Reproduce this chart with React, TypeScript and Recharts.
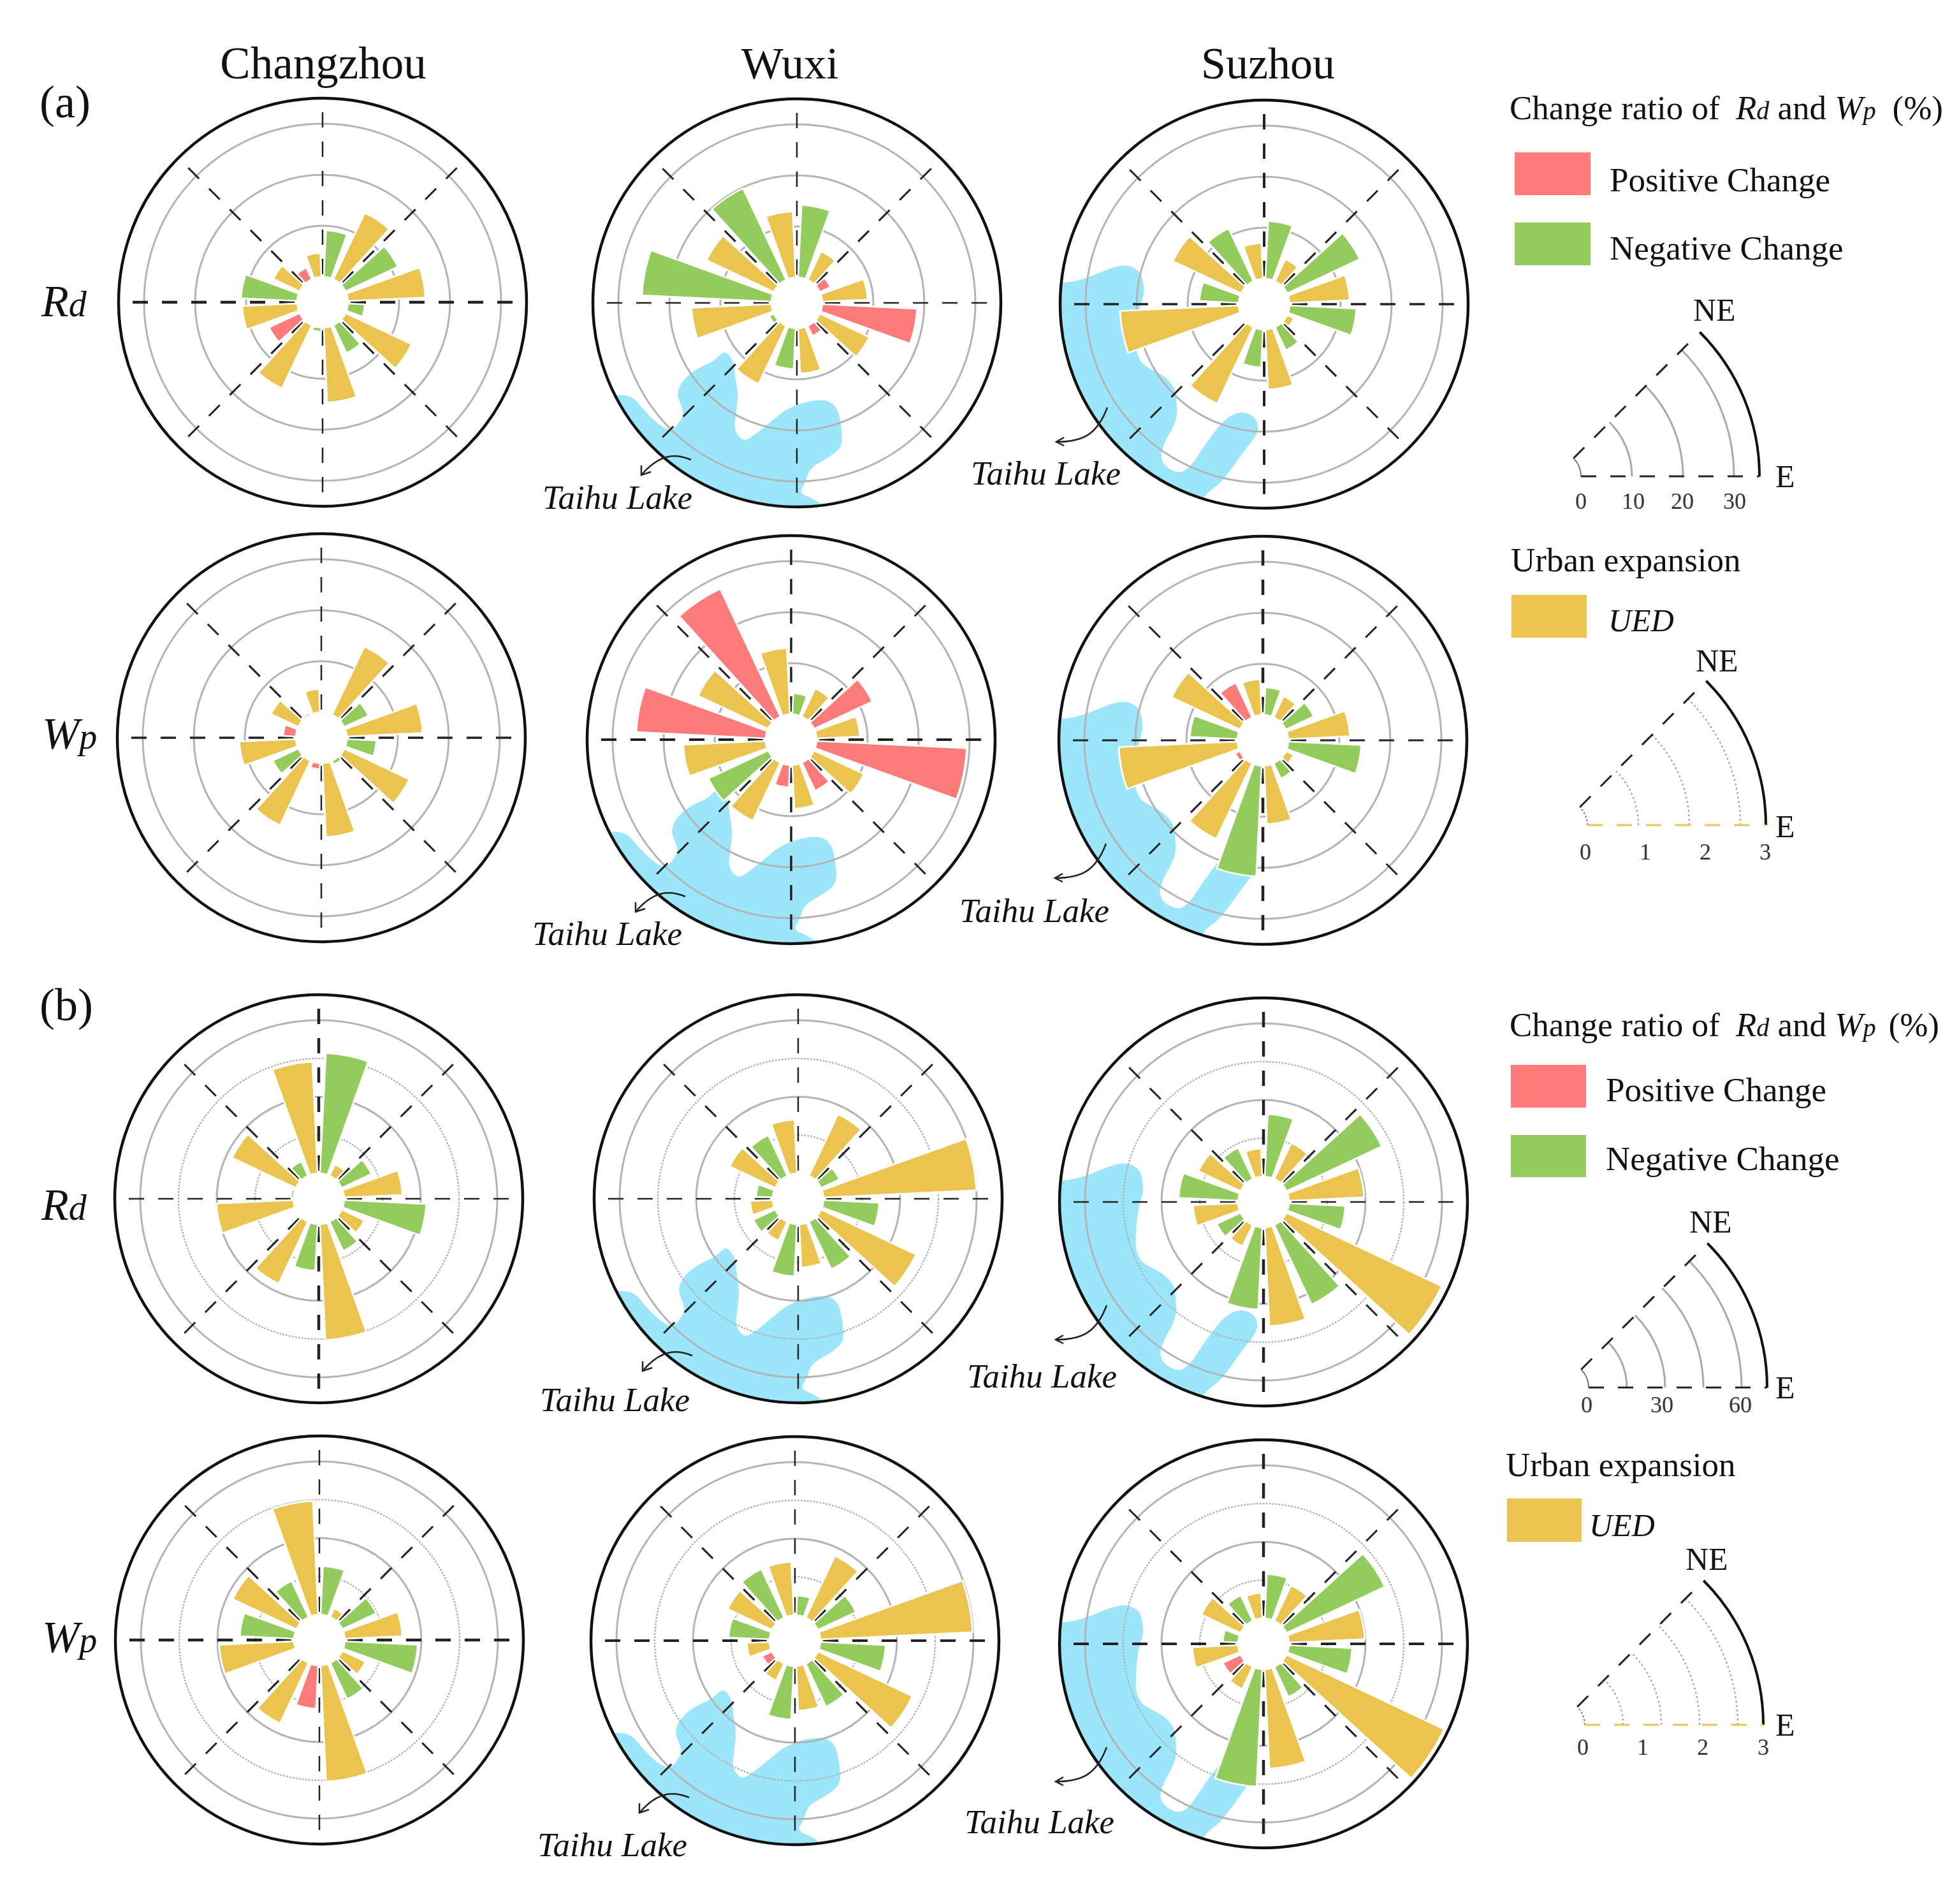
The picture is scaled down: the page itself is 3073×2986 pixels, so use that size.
import React from 'react';
import { RadialBarChart, RadialBar, PolarGrid, PolarAngleAxis, PolarRadiusAxis } from 'recharts';

// eight 45 degree sectors, counter clockwise from east
const sectors = ['E-NE', 'NE-N', 'N-NW', 'NW-W', 'W-SW', 'SW-S', 'S-SE', 'SE-E'];

// UED (gold) and signed change ratio (red when positive, green when negative)
const uedRdChangzhouA = [15.2, 14.4, 4.7, 5.7, 10.8, 13.7, 14.7, 14.3];
const chgRdChangzhouA = [-11.3, -9.1, 2.5, -11, 6.6, -0.8, -6, -3.3];
const uedRdWuxiA = [8.9, 6.2, 13, 14.6, 15.7, 12.6, 8.9, 10.7];
const chgRdWuxiA = [2.3, -14.2, -19.8, -25.4, -1, -8, 2.2, 18.6];
const uedRdSuzhouA = [11.8, 4.8, 7, 14.8, 23.3, 16.6, 11.8, 1.5];
const chgRdSuzhouA = [-15.7, -11.3, -11.4, -7.7, 0, -7.4, -5, -13.1];

const uedWpChangzhouA = [1.49, 1.48, 0.46, 0.59, 1.11, 1.4, 1.45, 1.41];
const chgWpChangzhouA = [-0.52, 0, -0.04, 0.25, -0.55, 0.12, -0.08, -0.58];
const uedWpWuxiA = [0.85, 0.61, 1.3, 1.52, 1.62, 1.26, 0.86, 1.08];
const chgWpWuxiA = [1.26, -0.41, 2.77, 2.54, -1.29, 0.44, 0.61, 2.95];
const uedWpSuzhouA = [1.21, 0.46, 0.7, 1.48, 2.33, 1.64, 1.15, 0.17];
const chgWpSuzhouA = [-0.6, -0.54, 0.75, -0.93, 0.1, -2.17, -0.33, -1.43];

const uedRdChangzhouB = [22.9, 5, 43.8, 27.6, 30.2, 26.9, 45.5, 9.8];
const chgRdChangzhouB = [-12.8, -47.2, -6.2, -1, 0, -18.2, -12.6, -32.2];
const uedRdWuxiB = [60, 26.7, 21.1, 19.7, 8.9, 8.2, 17, 41.2];
const chgRdWuxiB = [-7.9, -0.6, -17.5, -6.5, -9.4, -20.5, -20.5, -21.8];
const uedRdSuzhouB = [29.5, 15.6, 11, 18.3, 17.7, 9.3, 38.8, 67.3];
const chgRdSuzhouB = [-41.2, -24.5, -13.4, -23.3, -10.2, -32.2, -34.4, -22.1];

const uedWpChangzhouB = [1.13, 0.19, 2.23, 1.38, 1.47, 1.31, 2.28, 0.5];
const chgWpChangzhouB = [-0.73, -0.95, -0.78, -1.06, 0, 0.85, -0.78, -1.43];
const uedWpWuxiB = [2.99, 1.34, 1.05, 0.96, 0.45, 0.37, 0.88, 2.05];
const chgWpWuxiB = [-0.82, -0.39, -1.05, -0.8, 0.21, -1.05, -0.93, -1.28];
const uedWpSuzhouB = [1.49, 0.77, 0.5, 0.85, 0.9, 0.48, 1.95, 3.42];
const chgWpSuzhouB = [-2.13, -0.87, -0.55, -0.3, 0.38, -2.3, -0.65, -1.24];

// Taihu Lake outlines, offsets from the panel centre
const lakeWuxi = [[-279,144],[-257,147],[-240,168],[-218,190],[-196,203],[-177,177],[-181,162],[-189,142],[-179,121],[-157,103],[-131,92],[-118,79],[-110,77],[-99,92],[-97,116],[-92,142],[-95,173],[-99,199],[-84,218],[-66,207],[-40,186],[-19,168],[12,155],[46,151],[64,164],[70,194],[72,225],[51,242],[20,259],[14,281],[3,298],[25,307],[42,318],[42,342],[-296,342],[-313,144]];
const lakeSuzhou = [[-316,-33],[-296,-36],[-270,-44],[-240,-57],[-216,-62],[-196,-53],[-190,-38],[-188,-16],[-194,1],[-199,27],[-201,71],[-196,86],[-188,97],[-157,112],[-140,131],[-138,149],[-136,175],[-144,196],[-155,214],[-164,240],[-153,257],[-131,266],[-114,253],[-97,227],[-79,201],[-58,177],[-36,168],[-16,175],[-8,192],[-14,209],[-32,231],[-53,261],[-71,283],[-95,300],[-105,335],[-380,135],[-380,-33]];

const GOLD = '#EBC34F';
const GREEN = '#93CB5C';
const RED = '#FD7B7B';
const LAKE = '#9CE6FB';
const RING = '#b4b4b4';
const SERIF = '"Liberation Serif", serif';

const HOLE = 40;
const EDGE = 320;

const axisA = { max: 35, solid: [10, 20, 30], dotted: [] as number[] };
const axisAWp = { max: 3.5, solid: [1, 2, 3], dotted: [] as number[] };
const axisBRd = { max: 70, solid: [30, 60], dotted: [15, 45] };
const axisBWp = { max: 3.5, solid: [1.5, 3], dotted: [0.75, 2.25] };

const panels = [
  { id: 'a1', cx: 506, cy: 474, ued: uedRdChangzhouA, chg: chgRdChangzhouA, axis: axisA, hw: 4.5, vw: 2.5 },
  { id: 'a2', cx: 1250, cy: 475, ued: uedRdWuxiA, chg: chgRdWuxiA, axis: axisA, hw: 2.5, vw: 2.5, lake: lakeWuxi, tx: 851, ty: 798 },
  { id: 'a3', cx: 1983, cy: 477, ued: uedRdSuzhouA, chg: chgRdSuzhouA, axis: axisA, hw: 3.5, vw: 4, lake: lakeSuzhou, tx: 1523, ty: 760 },
  { id: 'a4', cx: 504, cy: 1157, ued: uedWpChangzhouA, chg: chgWpChangzhouA, axis: axisAWp, hw: 3.5, vw: 2.5 },
  { id: 'a5', cx: 1241, cy: 1160, ued: uedWpWuxiA, chg: chgWpWuxiA, axis: axisAWp, hw: 4, vw: 3.5, lake: lakeWuxi, tx: 835, ty: 1482 },
  { id: 'a6', cx: 1981, cy: 1161, ued: uedWpSuzhouA, chg: chgWpSuzhouA, axis: axisAWp, hw: 3, vw: 4.5, lake: lakeSuzhou, tx: 1505, ty: 1446 },
  { id: 'b1', cx: 500, cy: 1880, ued: uedRdChangzhouB, chg: chgRdChangzhouB, axis: axisBRd, hw: 2.5, vw: 4.5 },
  { id: 'b2', cx: 1252, cy: 1880, ued: uedRdWuxiB, chg: chgRdWuxiB, axis: axisBRd, hw: 2.5, vw: 2.5, lake: lakeWuxi, tx: 847, ty: 2213 },
  { id: 'b3', cx: 1982, cy: 1885, ued: uedRdSuzhouB, chg: chgRdSuzhouB, axis: axisBRd, hw: 2.5, vw: 4.5, lake: lakeSuzhou, tx: 1517, ty: 2176 },
  { id: 'b4', cx: 501, cy: 2572, ued: uedWpChangzhouB, chg: chgWpChangzhouB, axis: axisBWp, hw: 4.5, vw: 2.5 },
  { id: 'b5', cx: 1247, cy: 2573, ued: uedWpWuxiB, chg: chgWpWuxiB, axis: axisBWp, hw: 4, vw: 2.5, lake: lakeWuxi, tx: 843, ty: 2911 },
  { id: 'b6', cx: 1982, cy: 2578, ued: uedWpSuzhouB, chg: chgWpSuzhouB, axis: axisBWp, hw: 4, vw: 4.5, lake: lakeSuzhou, tx: 1513, ty: 2875 },
];

const smoothPath = (pts: number[][]) => {
  const mid = (a: number[], b: number[]) => [(a[0] + b[0]) / 2, (a[1] + b[1]) / 2];
  const start = mid(pts[pts.length - 1], pts[0]);
  let d = `M${start[0]},${start[1]}`;
  pts.forEach((p, i) => {
    const m = mid(p, pts[(i + 1) % pts.length]);
    d += ` Q${p[0]},${p[1]} ${m[0]},${m[1]}`;
  });
  return d + 'Z';
};

const Rose = ({ p }: { p: any }) => {
  // two slots per sector: UED first, then the change ratio
  const data = sectors.flatMap((name, i) => [
    { slot: `${name} UED`, ued: p.ued[i], pos: 0, neg: 0 },
    { slot: `${name} change`, ued: 0, pos: Math.max(p.chg[i], 0), neg: Math.max(-p.chg[i], 0) },
  ]);
  const toR = (v: number) => HOLE + (v / p.axis.max) * (EDGE - HOLE);
  const spoke = { cx: 340, cy: 340, innerRadius: HOLE, outerRadius: 299, polarRadius: [], stroke: '#222', strokeDasharray: '24 22', strokeDashoffset: -4 };
  return (
    <div style={{ position: 'absolute', left: p.cx - 340, top: p.cy - 340 }}>
      {/* a bar runs clockwise from its band start, so the bands are turned by one slot */}
      <RadialBarChart
        width={680}
        height={680}
        cx={340}
        cy={340}
        innerRadius={HOLE}
        outerRadius={EDGE}
        startAngle={22.5}
        endAngle={382.5}
        layout="centric"
        data={data}
        margin={{ top: 0, right: 0, bottom: 0, left: 0 }}
        barCategoryGap="12%"
      >
        <PolarAngleAxis type="category" dataKey="slot" tick={false} axisLine={false} />
        <PolarRadiusAxis type="number" domain={[0, p.axis.max]} allowDecimals tick={false} axisLine={false} />
        <PolarGrid gridType="circle" radialLines={false} cx={340} cy={340} polarAngles={[]} polarRadius={p.axis.solid.map(toR)} stroke={RING} strokeWidth={3} />
        {p.axis.dotted.length > 0 && (
          <PolarGrid gridType="circle" radialLines={false} cx={340} cy={340} polarAngles={[]} polarRadius={p.axis.dotted.map(toR)} stroke={RING} strokeWidth={2.5} strokeDasharray="3 2" />
        )}
        <PolarGrid gridType="circle" radialLines={false} cx={340} cy={340} polarAngles={[]} polarRadius={[EDGE]} stroke="#111" strokeWidth={4.5} />
        <PolarGrid {...spoke} gridType="circle" polarAngles={[0, 180]} strokeWidth={p.hw} />
        <PolarGrid {...spoke} gridType="circle" polarAngles={[90, 270]} strokeWidth={p.vw} />
        <PolarGrid {...spoke} gridType="circle" polarAngles={[45, 135, 225, 315]} strokeWidth={3} />
        <RadialBar dataKey="ued" stackId="s" fill={GOLD} stroke="#fff" strokeWidth={2.5} isAnimationActive={false} />
        <RadialBar dataKey="pos" stackId="s" fill={RED} stroke="#fff" strokeWidth={2.5} isAnimationActive={false} />
        <RadialBar dataKey="neg" stackId="s" fill={GREEN} stroke="#fff" strokeWidth={2.5} isAnimationActive={false} />
      </RadialBarChart>
    </div>
  );
};

const arcPath = (cx: number, cy: number, r: number) => {
  const k = Math.SQRT1_2;
  return `M${cx + r},${cy} A${r},${r} 0 0 0 ${cx + r * k},${cy - r * k}`;
};

const keyStyles = { fontFamily: SERIF, fill: '#111' };

const WedgeKey = ({ cx, cy, labels, rings, dotted, floor, neX, neY, eY }: any) => {
  const k = Math.SQRT1_2;
  return (
    <g>
      <path d={arcPath(cx, cy, HOLE)} fill="none" stroke="#777" strokeWidth={2} strokeDasharray={dotted ? '3 3' : undefined} />
      {rings.map((r: number) => (
        <path key={r} d={arcPath(cx, cy, r)} fill="none" stroke={dotted ? '#999' : '#aaa'} strokeWidth={dotted ? 2 : 3} strokeDasharray={dotted ? '3 4' : undefined} />
      ))}
      <path d={arcPath(cx, cy, EDGE)} fill="none" stroke="#111" strokeWidth={4} />
      <line x1={cx + HOLE} y1={cy} x2={cx + EDGE} y2={cy} stroke={floor} strokeWidth={3} strokeDasharray="24 22" />
      <line x1={cx + HOLE * k} y1={cy - HOLE * k} x2={cx + (EDGE - 5) * k} y2={cy - (EDGE - 5) * k} stroke="#222" strokeWidth={3} strokeDasharray="24 22" />
      <text x={neX} y={neY} fontSize={50} {...keyStyles}>NE</text>
      <text x={2785} y={eY} fontSize={50} {...keyStyles}>E</text>
      {labels.map((l: any) => (
        <text key={l[0]} x={l[1]} y={l[2]} fontSize={36} textAnchor="middle" {...keyStyles} fill="#333">{l[0]}</text>
      ))}
    </g>
  );
};

const RatioTitle = ({ y, gap }: { y: number; gap: number }) => (
  <text x={2368} y={y} fontSize={53} {...keyStyles}>
    Change ratio of  <tspan fontStyle="italic" dx={12}>R</tspan><tspan fontStyle="italic" fontSize={40}>d</tspan> and <tspan fontStyle="italic">W</tspan><tspan fontStyle="italic" fontSize={40}>p</tspan><tspan dx={gap}>(%)</tspan>
  </text>
);

const Swatch = ({ x, y, w, h, fill, label, tx, ty, italic }: any) => (
  <g>
    <rect x={x} y={y} width={w} height={h} fill={fill} />
    <text x={tx} y={ty} fontSize={italic ? 50 : 53} fontStyle={italic ? 'italic' : undefined} {...keyStyles}>{label}</text>
  </g>
);

const RowLabel = ({ x, y, a, b }: any) => (
  <text x={x} y={y} fontSize={70} fontStyle="italic" {...keyStyles}>
    {a}<tspan fontSize={56}>{b}</tspan>
  </text>
);

const Arrow = ({ p }: { p: any }) => {
  const wuxi = p.lake === lakeWuxi;
  const body = wuxi ? 'M-166,246 C-190,236 -215,236 -244,270' : 'M-246,162 C-262,205 -285,216 -326,216';
  const head = wuxi ? 'M-244,255 L-244,270 L-229,265' : 'M-314,209 L-326,216 L-314,222';
  return (
    <g transform={`translate(${p.cx},${p.cy})`} fill="none" stroke="#222" strokeWidth={2.5}>
      <path d={body} />
      <path d={head} />
    </g>
  );
};

export default function App() {
  return (
    <div style={{ position: 'absolute', left: 0, top: 0, width: 3073, height: 2986, background: '#fff', overflow: 'hidden' }}>
      <svg width={3073} height={2986} style={{ position: 'absolute', left: 0, top: 0 }}>
        <defs>
          {panels.filter((p) => p.lake).map((p) => (
            <clipPath id={`disc-${p.id}`} key={p.id}>
              <circle cx={0} cy={0} r={EDGE} />
            </clipPath>
          ))}
        </defs>
        {panels.filter((p) => p.lake).map((p) => (
          <g key={p.id} transform={`translate(${p.cx},${p.cy})`} clipPath={`url(#disc-${p.id})`}>
            <path d={smoothPath(p.lake as number[][])} fill={LAKE} />
          </g>
        ))}
      </svg>
      {panels.map((p) => (
        <Rose key={p.id} p={p} />
      ))}
      <svg width={3073} height={2986} style={{ position: 'absolute', left: 0, top: 0 }}>
        <text x={507} y={123} fontSize={71} textAnchor="middle" {...keyStyles}>Changzhou</text>
        <text x={1239} y={123} fontSize={70} textAnchor="middle" {...keyStyles}>Wuxi</text>
        <text x={1989} y={123} fontSize={70} textAnchor="middle" {...keyStyles}>Suzhou</text>
        <text x={62} y={184} fontSize={72} {...keyStyles}>(a)</text>
        <text x={62} y={1600} fontSize={72} {...keyStyles}>(b)</text>
        <RowLabel x={65} y={496} a="R" b="d" />
        <RowLabel x={66} y={1174} a="W" b="p" />
        <RowLabel x={65} y={1913} a="R" b="d" />
        <RowLabel x={66} y={2591} a="W" b="p" />

        {panels.filter((p) => p.lake).map((p) => (
          <g key={p.id}>
            <Arrow p={p} />
            <text x={p.tx} y={p.ty} fontSize={53} fontStyle="italic" {...keyStyles}>Taihu Lake</text>
          </g>
        ))}

        <RatioTitle y={187} gap={26} />
        <Swatch x={2376} y={239} w={119} h={67} fill={RED} label="Positive Change" tx={2525} ty={300} />
        <Swatch x={2376} y={349} w={119} h={67} fill={GREEN} label="Negative Change" tx={2525} ty={407} />
        <WedgeKey cx={2440} cy={747} rings={[120, 200, 280]} floor="#222" neX={2656} neY={503} eY={764} labels={[['0', 2480, 798], ['10', 2562, 798], ['20', 2639, 798], ['30', 2721, 798]]} />

        <text x={2370} y={896} fontSize={53} {...keyStyles}>Urban expansion</text>
        <Swatch x={2371} y={933} w={118} h={67} fill={GOLD} label="UED" tx={2523} ty={990} italic />
        <WedgeKey cx={2450} cy={1294} rings={[120, 200, 280]} dotted floor={GOLD} neX={2660} neY={1053} eY={1313} labels={[['0', 2487, 1348], ['1', 2581, 1348], ['2', 2675, 1348], ['3', 2769, 1348]]} />

        <RatioTitle y={1625} gap={20} />
        <Swatch x={2370} y={1670} w={118} h={67} fill={RED} label="Positive Change" tx={2519} ty={1727} />
        <Swatch x={2370} y={1780} w={118} h={66} fill={GREEN} label="Negative Change" tx={2519} ty={1835} />
        <WedgeKey cx={2452} cy={2176} rings={[100, 160, 220, 280]} floor="#222" neX={2650} neY={1933} eY={2193} labels={[['0', 2489, 2215], ['30', 2607, 2215], ['60', 2730, 2215]]} />

        <text x={2362} y={2315} fontSize={53} {...keyStyles}>Urban expansion</text>
        <Swatch x={2364} y={2350} w={117} h={68} fill={GOLD} label="UED" tx={2493} ty={2409} italic />
        <WedgeKey cx={2446} cy={2705} rings={[100, 160, 220, 280]} dotted floor={GOLD} neX={2644} neY={2462} eY={2722} labels={[['0', 2483, 2752], ['1', 2577, 2752], ['2', 2671, 2752], ['3', 2766, 2752]]} />
      </svg>
    </div>
  );
}
